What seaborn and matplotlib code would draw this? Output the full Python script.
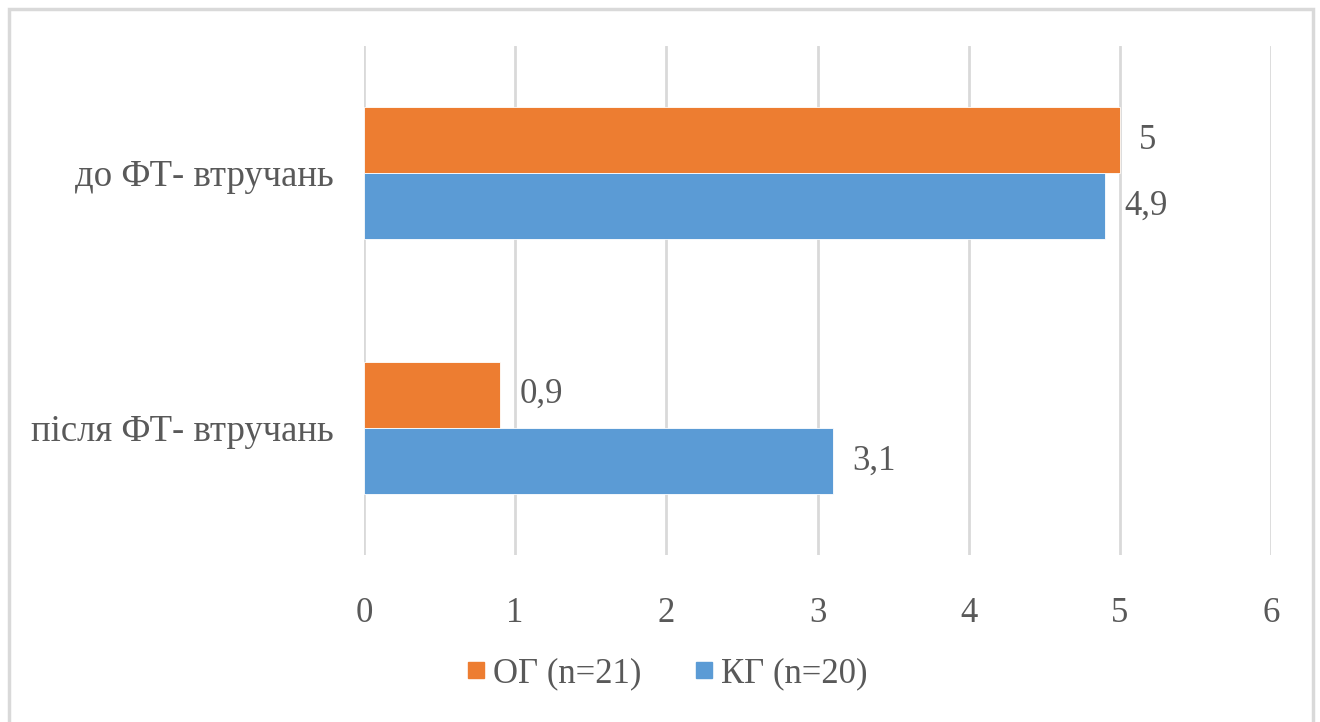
import matplotlib
matplotlib.use("Agg")
import matplotlib.pyplot as plt
from matplotlib.lines import Line2D
from matplotlib.patches import Rectangle
import seaborn as sns
import pandas as pd

# Data
categories = ["до ФТ- втручань", "після ФТ- втручань"]
groups = ["ОГ (n=21)", "КГ (n=20)"]
og_values = [5.0, 0.9]
kg_values = [4.9, 3.1]
x_ticks = [0, 1, 2, 3, 4, 5, 6]

colors = {"ОГ (n=21)": "#ED7D31", "КГ (n=20)": "#5B9BD5"}
text_color = "#595959"
grid_color = "#D9D9D9"

df = pd.DataFrame({
    "category": categories * 2,
    "group": [groups[0]] * len(categories) + [groups[1]] * len(categories),
    "value": og_values + kg_values,
})

sns.set_theme(style="white")
plt.rcParams["font.family"] = ["Liberation Serif", "DejaVu Serif"]

fig = plt.figure(figsize=(13.2, 7.22), dpi=100)
ax = fig.add_axes([364 / 1320, 1 - 555 / 722, (1271 - 364) / 1320, (555 - 46) / 722])

sns.barplot(data=df, y="category", x="value", hue="group", order=categories,
            hue_order=groups, palette=colors, orient="h", width=0.52,
            saturation=1, edgecolor="white", linewidth=0.6, legend=False, ax=ax)

ax.set_xlim(0, 6)
ax.set_ylim(1.5, -0.5)
ax.set_xticks(x_ticks)
ax.set_xticklabels([str(t) for t in x_ticks])
ax.set_xlabel("")
ax.set_ylabel("")
ax.grid(axis="x", color=grid_color, linewidth=2)
ax.grid(axis="y", visible=False)
ax.set_axisbelow(True)
for s in ax.spines.values():
    s.set_visible(False)
ax.tick_params(axis="both", length=0, labelsize=25, labelcolor=text_color)
ax.tick_params(axis="x", pad=30)
ax.tick_params(axis="y", pad=22, labelsize=26.5)

# Value labels
for container in ax.containers:
    labels = [f"{b.get_width():g}".replace(".", ",") for b in container]
    ax.bar_label(container, labels=labels, padding=14, fontsize=25, color=text_color)

# Legend
handles = [Line2D([0], [0], marker="s", linestyle="", markersize=12,
                  markerfacecolor=colors[g], markeredgecolor=colors[g]) for g in groups]
fig.legend(handles, groups, loc="center", bbox_to_anchor=(665 / 1320, 1 - 674 / 722),
           ncol=2, frameon=False, fontsize=25, labelcolor=text_color,
           handletextpad=0.1, columnspacing=1.4, handlelength=0.8)

# Chart area border
fig.patches.append(Rectangle((9 / 1320, -0.05), (1313 - 9) / 1320, 1.05 - 9 / 722,
                             transform=fig.transFigure, fill=False,
                             edgecolor=grid_color, linewidth=2.5))

fig.savefig("out.png", dpi=100, facecolor="white")
